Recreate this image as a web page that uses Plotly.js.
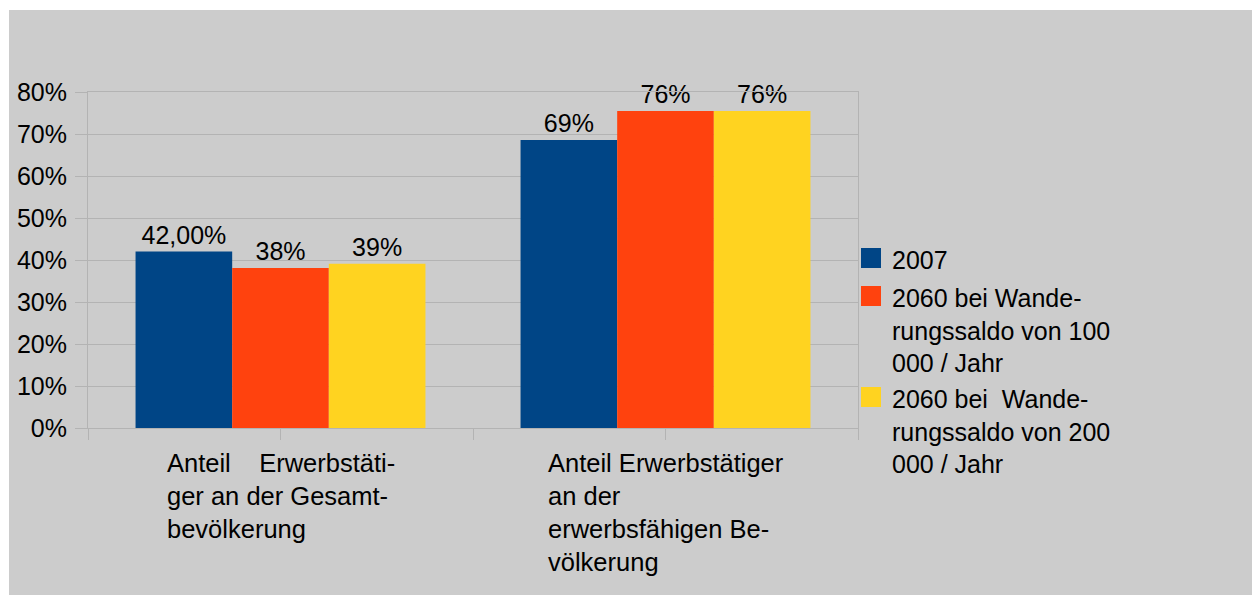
<!DOCTYPE html>
<html>
<head>
<meta charset="utf-8">
<script src="https://cdn.plot.ly/plotly-3.0.1.min.js"></script>
<style>html,body{margin:0;padding:0;background:#fff;}#chart{width:1252px;height:595px;}</style>
</head>
<body>
<div id="chart"></div>
<script>
// ---- data ----
var categories = [
  "Anteil\u00a0\u00a0\u00a0\u00a0Erwerbstäti-<br>ger an der Gesamt-<br>bevölkerung",
  "Anteil Erwerbstätiger<br>an der<br>erwerbsfähigen Be-<br>völkerung"
];
var seriesNames = [
  "2007",
  "2060 bei Wande-<br>rungssaldo von 100<br>000 / Jahr",
  "2060 bei\u00a0\u00a0Wande-<br>rungssaldo von 200<br>000 / Jahr"
];
var values2007 = [0.42, 0.686];
var values100k = [0.381, 0.755];
var values200k = [0.391, 0.755];
var labels2007 = ["42,00%", "69%"];
var labels100k = ["38%", "76%"];
var labels200k = ["39%", "76%"];
var yTickVals = [0, 0.1, 0.2, 0.3, 0.4, 0.5, 0.6, 0.7, 0.8];

// ---- styles ----
var colors = ["#004586", "#ff420e", "#ffd320"];
var FONT = "Liberation Sans, Arial, sans-serif";
var seriesValues = [values2007, values100k, values200k];
var seriesLabels = [labels2007, labels100k, labels200k];

var traces = seriesValues.map(function (vals, i) {
  return {
    type: "bar",
    x: categories,
    y: vals,
    name: seriesNames[i],
    text: seriesLabels[i],
    textposition: "outside",
    textfont: {family: FONT, size: 25, color: "#000"},
    constraintext: "none",
    cliponaxis: false,
    marker: {color: colors[i], line: {width: 0}},
    showlegend: false,
    hoverinfo: "none"
  };
});

// plot area in pixels: x 88..858, y 92..428
var L = 88, R = 858, T = 92, B = 428, W = R - L, H = B - T;
function px(x) { return (x - L) / W; }
function py(y) { return (B - y) / H; }

var shapes = [{
  type: "rect", xref: "paper", yref: "paper", layer: "below",
  x0: px(9), x1: px(1260), y0: py(600), y1: py(10),
  fillcolor: "#cccccc", line: {width: 0}
}];
var annotations = [];

// category labels (left-aligned lines, block centred on category)
categories.forEach(function (c) {
  annotations.push({
    xref: "x", yref: "paper", x: c, y: py(448),
    xanchor: "center", yanchor: "top", align: "left",
    text: c, showarrow: false, borderpad: 0,
    font: {family: FONT, size: 25.5, color: "#000"}
  });
});

// legend
var legendTops = [248, 286, 387];
seriesNames.forEach(function (n, i) {
  var t = legendTops[i];
  shapes.push({
    type: "rect", xref: "paper", yref: "paper",
    x0: px(861), x1: px(881), y0: py(t + 20), y1: py(t),
    fillcolor: colors[i], line: {width: 0}
  });
  annotations.push({
    xref: "paper", yref: "paper", x: px(891), y: py(t - 3),
    xanchor: "left", yanchor: "top", align: "left",
    text: n, showarrow: false, borderpad: 0,
    font: {family: FONT, size: 25, color: "#000"}
  });
});

var layout = {
  width: 1252, height: 595,
  margin: {l: L, r: 1252 - R, t: T, b: 595 - B, pad: 0},
  paper_bgcolor: "#ffffff",
  plot_bgcolor: "rgba(0,0,0,0)",
  barmode: "group",
  bargap: 0.247,
  bargroupgap: 0,
  font: {family: FONT, size: 25, color: "#000"},
  xaxis: {
    type: "category",
    range: [-0.5, 1.5],
    tickmode: "array",
    tickvals: [-0.5, 0, 0.5, 1, 1.5],
    ticktext: ["", "", "", "", ""],
    ticks: "outside", ticklen: 11, tickwidth: 1, tickcolor: "#b3b3b3",
    showline: true, linecolor: "#b3b3b3", linewidth: 1, mirror: true,
    showgrid: false, zeroline: false, fixedrange: true
  },
  yaxis: {
    range: [0, 0.8],
    tickmode: "array",
    tickvals: yTickVals,
    tickformat: ".0%",
    ticks: "outside", ticklen: 12, tickwidth: 1, tickcolor: "#b3b3b3",
    ticklabelstandoff: 3,
    tickfont: {family: FONT, size: 25, color: "#000"},
    showline: true, linecolor: "#b3b3b3", linewidth: 1, mirror: true,
    showgrid: true, gridcolor: "#b3b3b3", gridwidth: 1,
    zeroline: false, fixedrange: true
  },
  shapes: shapes,
  annotations: annotations,
  showlegend: false
};

Plotly.newPlot("chart", traces, layout, {displayModeBar: false, staticPlot: true});
</script>
</body>
</html>
